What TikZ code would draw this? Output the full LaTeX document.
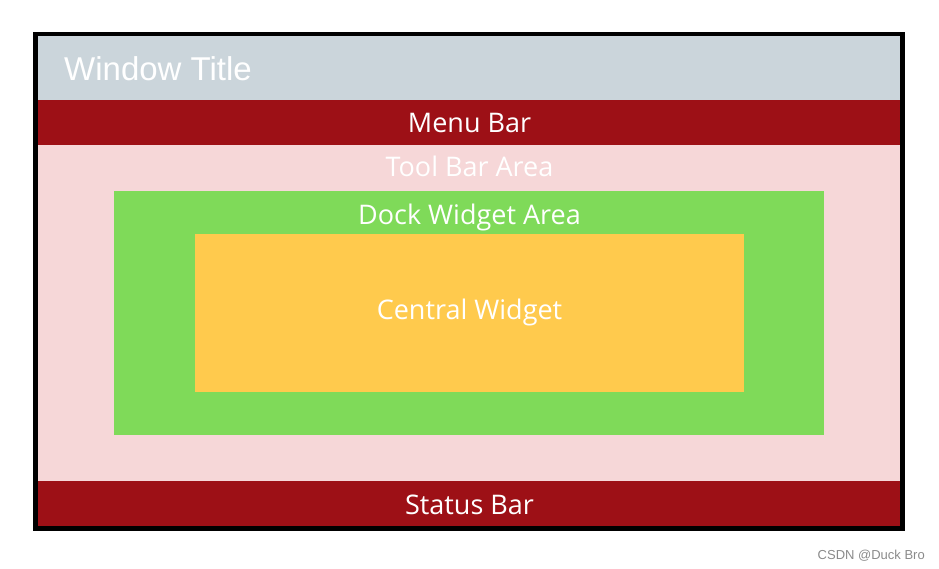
\documentclass[tikz,border=0pt]{standalone}
\usepackage{fontspec}
\setmainfont{Liberation Sans}
\newfontfamily\labelfont{Open Sans}
\definecolor{titlebg}{HTML}{CBD5DB}
\definecolor{barred}{HTML}{9D1016}
\definecolor{toolpink}{HTML}{F6D7D8}
\definecolor{dockgreen}{HTML}{7FDA59}
\definecolor{centralorange}{HTML}{FFCA4D}
\definecolor{wmgrey}{HTML}{8A8A8A}
\tikzset{
  area/.style={anchor=north west, inner sep=0pt, outer sep=0pt, draw=none},
  lbl/.style={text=white, font=\labelfont\fontsize{27}{31}\selectfont, inner sep=0pt, anchor=base},
}
\begin{document}
\begin{tikzpicture}[x=1pt,y=-1pt]
\useasboundingbox (0,0) rectangle (939,569);
% regions
\node[area, fill=titlebg, minimum width=863pt, minimum height=64pt] (title) at (38,36) {};
\node[area, fill=barred, minimum width=863pt, minimum height=45pt] (menu) at (38,100) {};
\node[area, fill=toolpink, minimum width=863pt, minimum height=336pt] (tool) at (38,145) {};
\node[area, fill=barred, minimum width=863pt, minimum height=45pt] (status) at (38,481) {};
\node[area, fill=dockgreen, minimum width=710pt, minimum height=244pt] (dock) at (114,191) {};
\node[area, fill=centralorange, minimum width=549pt, minimum height=158pt] (central) at (195,234) {};
% window frame
\node[area, draw=black, line width=4.5pt, minimum width=867pt, minimum height=494.5pt] (frame) at (35.7,33.8) {};
% labels
\node[text=white, font=\fontsize{33}{38}\selectfont, inner sep=0pt, anchor=base west] (ttl) at (64,81) {Window Title};
\node[lbl] (lmenu) at (469.5,132.5) {Menu Bar};
\node[lbl] (ltool) at (469.5,177) {Tool Bar Area};
\node[lbl] (ldock) at (469.5,225) {Dock Widget Area};
\node[lbl] (lcentral) at (469.5,319.5) {Central Widget};
\node[lbl] (lstatus) at (469.5,514) {Status Bar};
\node[text=wmgrey, font=\fontsize{13}{15}\selectfont, inner sep=0pt, anchor=base east] (wm) at (925,559) {CSDN @Duck Bro};
\end{tikzpicture}
\end{document}
